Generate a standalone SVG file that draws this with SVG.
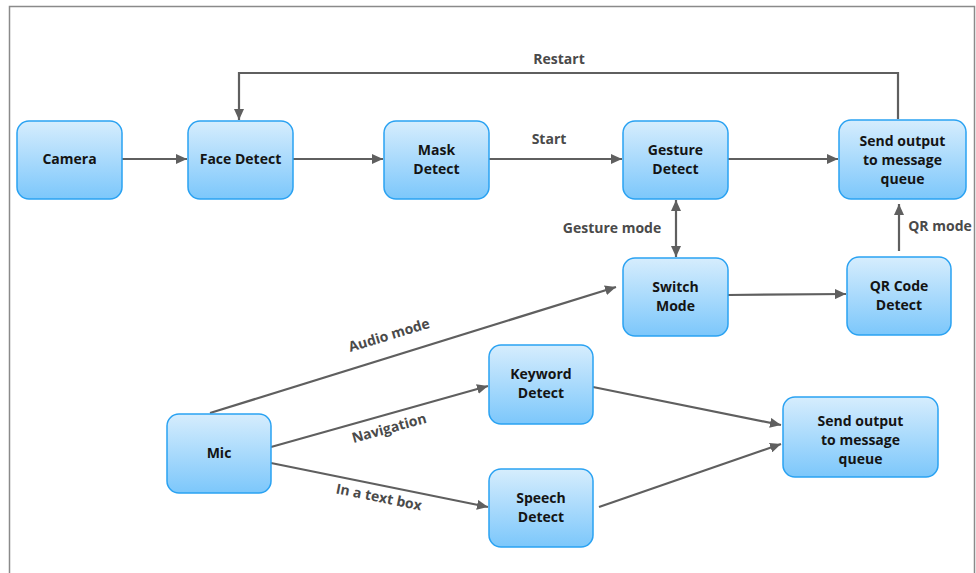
<svg xmlns="http://www.w3.org/2000/svg" width="976" height="573" viewBox="0 0 976 573">
<defs>
<linearGradient id="g" x1="0" y1="0" x2="0" y2="1">
<stop offset="0" stop-color="#d6edfd"/>
<stop offset="1" stop-color="#7cc7fb"/>
</linearGradient>
<marker id="ah" viewBox="0 0 11 10" refX="11" refY="5" markerWidth="11" markerHeight="10" markerUnits="userSpaceOnUse" orient="auto-start-reverse">
<path d="M0,0 L11,5 L0,10 z" fill="#5f5f5f"/>
</marker>
<style>
.n rect{fill:url(#g);stroke:#2aa2f2;stroke-width:1.5}
.n text{font-family:"Open Sans","DejaVu Sans",sans-serif;font-weight:bold;font-size:14px;fill:#141414;text-anchor:middle}
.c path{fill:none;stroke:#5f5f5f;stroke-width:2.2}
.c .a{marker-end:url(#ah)}
.l{font-family:"Open Sans","DejaVu Sans",sans-serif;font-weight:bold;font-size:14px;fill:#4a4a4a;text-anchor:middle}
</style>
</defs>
<rect x="9.5" y="6.5" width="965" height="580" fill="#fff" stroke="#8a8a8a" stroke-width="1.5"/>
<g id="connectors" class="c">
<path class="a" d="M122,159 H187"/>
<path class="a" d="M293,159 H383"/>
<path class="a" d="M489,159 H622"/>
<path class="a" d="M728,159 H838"/>
<path class="a" d="M898,119 V73 H239 V120"/>
<path class="a" d="M676,200 V257" marker-start="url(#ah)"/>
<path class="a" d="M728,295 L846,294"/>
<path class="a" d="M899,251 V204"/>
<path class="a" d="M210,413 L616,287"/>
<path class="a" d="M271,447 L488,386"/>
<path class="a" d="M271,463 L488,507"/>
<path class="a" d="M593,387 L781,425"/>
<path class="a" d="M599,507 L781,444"/>
</g>
<g id="labels">
<text class="l" x="559" y="64">Restart</text>
<text class="l" x="549" y="144">Start</text>
<text class="l" x="612" y="233">Gesture mode</text>
<text class="l" x="940" y="231">QR mode</text>
<text class="l" transform="translate(389,335) rotate(-17)" y="5">Audio mode</text>
<text class="l" transform="translate(389,428) rotate(-15.5)" y="5">Navigation</text>
<text class="l" transform="translate(379,497) rotate(11.5)" y="5">In a text box</text>
</g>
<g id="camera" class="n"><rect x="17" y="121" width="105" height="78" rx="12"/><text x="69.5" y="164">Camera</text></g>
<g id="face-detect" class="n"><rect x="188" y="121" width="105" height="78" rx="12"/><text x="240.5" y="164">Face Detect</text></g>
<g id="mask-detect" class="n"><rect x="384" y="121" width="105" height="78" rx="12"/><text x="436.5" y="155">Mask</text><text x="436.5" y="174">Detect</text></g>
<g id="gesture-detect" class="n"><rect x="623" y="121" width="105" height="78" rx="12"/><text x="675.5" y="155">Gesture</text><text x="675.5" y="174">Detect</text></g>
<g id="send-output-top" class="n"><rect x="839" y="120" width="127" height="79" rx="12"/><text x="902.5" y="146">Send output</text><text x="902.5" y="165">to message</text><text x="902.5" y="184">queue</text></g>
<g id="switch-mode" class="n"><rect x="623" y="258" width="105" height="78" rx="12"/><text x="675.5" y="292">Switch</text><text x="675.5" y="311">Mode</text></g>
<g id="qr-code-detect" class="n"><rect x="847" y="257" width="104" height="78" rx="12"/><text x="899" y="291">QR Code</text><text x="899" y="310">Detect</text></g>
<g id="mic" class="n"><rect x="167" y="414" width="104" height="79" rx="12"/><text x="219" y="458">Mic</text></g>
<g id="keyword-detect" class="n"><rect x="489" y="345" width="104" height="79" rx="12"/><text x="541" y="379">Keyword</text><text x="541" y="398">Detect</text></g>
<g id="speech-detect" class="n"><rect x="489" y="469" width="104" height="78" rx="12"/><text x="541" y="503">Speech</text><text x="541" y="522">Detect</text></g>
<g id="send-output-bottom" class="n"><rect x="783" y="397" width="155" height="80" rx="12"/><text x="860.5" y="426">Send output</text><text x="860.5" y="445">to message</text><text x="860.5" y="464">queue</text></g>
</svg>
